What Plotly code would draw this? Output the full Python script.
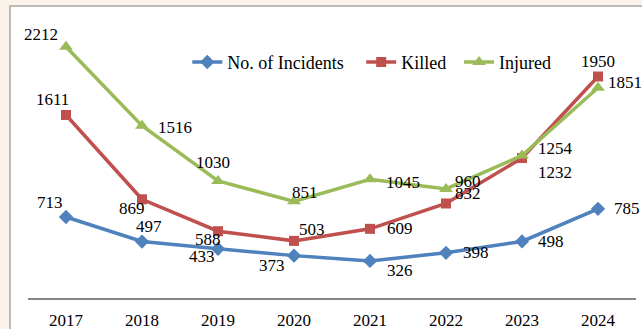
import plotly.graph_objects as go

years = ["2017", "2018", "2019", "2020", "2021", "2022", "2023", "2024"]
incidents = [713, 497, 433, 373, 326, 398, 498, 785]
killed = [1611, 869, 588, 503, 609, 832, 1232, 1950]
injured = [2212, 1516, 1030, 851, 1045, 960, 1254, 1851]

# label offsets in pixels (dx right, dy down) from each marker
incidents_off = [(-16, -15), (7, -15), (-16, 8), (-22, 10),
                 (30, 10), (30, 0), (29, 0), (29, 0)]
killed_off = [(-14, -15), (-10, 9), (-10, 8), (18, -11),
              (30, 0), (22, -10), (33, 14), (0, -15)]
injured_off = [(-25, -12), (33, 2), (-5, -18), (11, -9),
               (33, 3), (22, -7), (33, -7), (27, -5)]

FONT = "Liberation Serif, Times New Roman, serif"

series = [
    ("No. of Incidents", incidents, incidents_off, "#4F81BD", "diamond", 11, "legend", 0.262),
    ("Killed", killed, killed_off, "#C0504D", "square", 10, "legend2", 0.548),
    ("Injured", injured, injured_off, "#9BBB59", "triangle-up", 12, "legend3", 0.709),
]

fig = go.Figure()
annotations = []
legends = {}
for name, vals, offs, color, sym, size, leg, legx in series:
    fig.add_trace(go.Scatter(
        x=years, y=vals, name=name,
        mode="lines+markers",
        line=dict(color=color, width=3.5),
        marker=dict(symbol=sym, size=size, color=color),
        hoverinfo="skip",
        cliponaxis=False,
        legend=leg,
    ))
    legends[leg] = dict(
        orientation="h", x=legx, y=0.83, xanchor="left", yanchor="middle",
        bgcolor="rgba(0,0,0,0)", font=dict(family=FONT, size=18),
        itemwidth=30,
    )
    for i, (v, (dx, dy)) in enumerate(zip(vals, offs)):
        annotations.append(dict(
            x=i, y=v, text=str(v), showarrow=False,
            xanchor="center", yanchor="middle",
            xshift=dx, yshift=-dy,
            font=dict(family=FONT, size=17, color="#000000"),
        ))

fig.update_layout(
    width=642, height=329,
    margin=dict(l=28, r=6, t=14, b=31),
    paper_bgcolor="#FBF3E9",
    plot_bgcolor="rgba(0,0,0,0)",
    font=dict(family=FONT, size=17, color="#000000"),
    showlegend=True,
    annotations=annotations,
    shapes=[dict(
        type="rect", xref="paper", yref="paper",
        x0=-0.0296, x1=1.2, y0=-0.3, y1=1.0282,
        fillcolor="#FFFFFF", line=dict(color="#A6A6A6", width=1.5),
        layer="below",
    )],
    **legends,
)

fig.update_xaxes(
    type="category", showgrid=False, zeroline=False,
    showline=True, linecolor="#868686", linewidth=1.5,
    ticks="", ticklabelstandoff=6, automargin=False,
    tickfont=dict(family=FONT, size=17, color="#000000"),
    range=[-0.5, 7.5],
)
fig.update_yaxes(
    range=[0, 2500], showgrid=False, zeroline=False, automargin=False,
    showticklabels=False, showline=False, ticks="",
)

fig.write_html("out.html")
